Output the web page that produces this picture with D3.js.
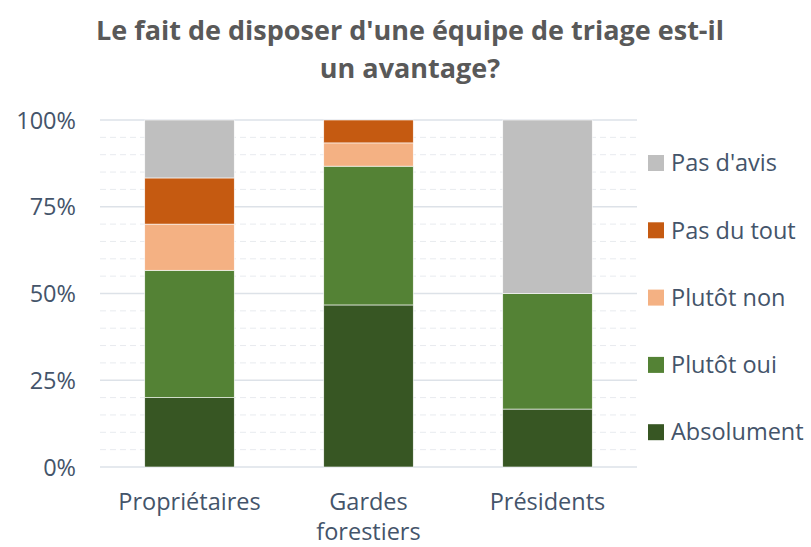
<!DOCTYPE html>
<html><head><meta charset="utf-8">
<script src="https://cdn.jsdelivr.net/npm/d3@7"></script>
<style>body{margin:0;background:#fff;} svg{display:block;}</style>
</head><body>
<svg id="c" width="811" height="547"></svg>
<script>
const categories = [["Propriétaires"], ["Gardes", "forestiers"], ["Présidents"]];
const seriesNames = ["Absolument", "Plutôt oui", "Plutôt non", "Pas du tout", "Pas d'avis"];
const colors = ["#375623", "#548235", "#f4b183", "#c55a11", "#bfbfbf"];
const absolument = [20.0, 46.7, 16.7];
const plutotOui = [36.7, 40.0, 33.3];
const plutotNon = [13.3, 6.7, 0];
const pasDuTout = [13.3, 6.6, 0];
const pasDAvis = [16.7, 0, 50.0];
const tickValues = [0, 25, 50, 75, 100];
const title = ["Le fait de disposer d'une équipe de triage est-il", "un avantage?"];

(function () {
const seriesVals = [absolument, plutotOui, plutotNon, pasDuTout, pasDAvis];
const data = categories.map((c, i) => {
  const o = {cat: c.join(" ")};
  seriesNames.forEach((s, j) => o[s] = seriesVals[j][i]);
  return o;
});
const stacked = d3.stack().keys(seriesNames)(data);

const svg = d3.select("#c");
const font = "'Open Sans', sans-serif";
const fs = 23.5;
const pL = 100, pR = 637, pT = 120, pB = 467;
const x = d3.scaleBand().domain(data.map(d => d.cat)).range([pL, pR]).paddingInner(0.5).paddingOuter(0.25);
const y = d3.scaleLinear().domain([0, 100]).range([pB, pT]);

// minor gridlines
const minor = d3.range(5, 100, 5).filter(v => v % 25 !== 0);
svg.append("g").selectAll("line").data(minor).join("line")
  .attr("x1", pL).attr("x2", pR).attr("y1", d => y(d)).attr("y2", d => y(d))
  .attr("stroke", "#e8ebef").attr("stroke-width", 1).attr("stroke-dasharray", "6,4");
// major gridlines
svg.append("g").selectAll("line").data(tickValues).join("line")
  .attr("x1", pL).attr("x2", pR).attr("y1", d => y(d)).attr("y2", d => y(d))
  .attr("stroke", "#dde2e8").attr("stroke-width", 1.3);

// bars
svg.append("g").selectAll("g").data(stacked).join("g")
  .attr("fill", (d, i) => colors[i])
  .selectAll("rect").data(d => d).join("rect")
  .attr("x", d => x(d.data.cat))
  .attr("width", x.bandwidth())
  .attr("y", d => y(d[1]))
  .attr("height", d => Math.max(0, y(d[0]) - y(d[1])))
  .attr("stroke", "#ffffff").attr("stroke-width", 0.6);

// y axis labels
const yAxis = d3.axisLeft(y).tickValues(tickValues).tickFormat(d => d + "%").tickSize(0).tickPadding(0);
const ya = svg.append("g").attr("transform", `translate(76,0)`).call(yAxis);
ya.select(".domain").remove();
ya.selectAll("text").attr("font-family", font).attr("font-size", fs).attr("fill", "#44546a").attr("dy", "0.35em");

// x axis labels
const xg = svg.append("g");
data.forEach((d, i) => {
  const t = xg.append("text").attr("x", x(d.cat) + x.bandwidth() / 2).attr("y", 510)
    .attr("text-anchor", "middle").attr("font-family", font).attr("font-size", fs).attr("fill", "#44546a");
  categories[i].forEach((line, k) => t.append("tspan").attr("x", x(d.cat) + x.bandwidth() / 2).attr("dy", k === 0 ? 0 : 30).text(line));
});

// title
const tt = svg.append("text").attr("text-anchor", "middle").attr("font-family", font)
  .attr("font-size", 27).attr("font-weight", "bold").attr("fill", "#595959");
title.forEach((l, k) => tt.append("tspan").attr("x", 410).attr("y", 40 + k * 38).text(l));

// legend
const legendItems = seriesNames.map((s, i) => ({s, c: colors[i]})).reverse();
const lg = svg.append("g");
legendItems.forEach((d, i) => {
  const cy = 163 + i * 67.3;
  lg.append("rect").attr("x", 648).attr("y", cy - 8).attr("width", 16).attr("height", 16).attr("fill", d.c);
  lg.append("text").attr("x", 671).attr("y", cy).attr("dy", "0.35em")
    .attr("font-family", font).attr("font-size", fs).attr("fill", "#44546a").text(d.s);
});
})();
</script>
</body></html>
